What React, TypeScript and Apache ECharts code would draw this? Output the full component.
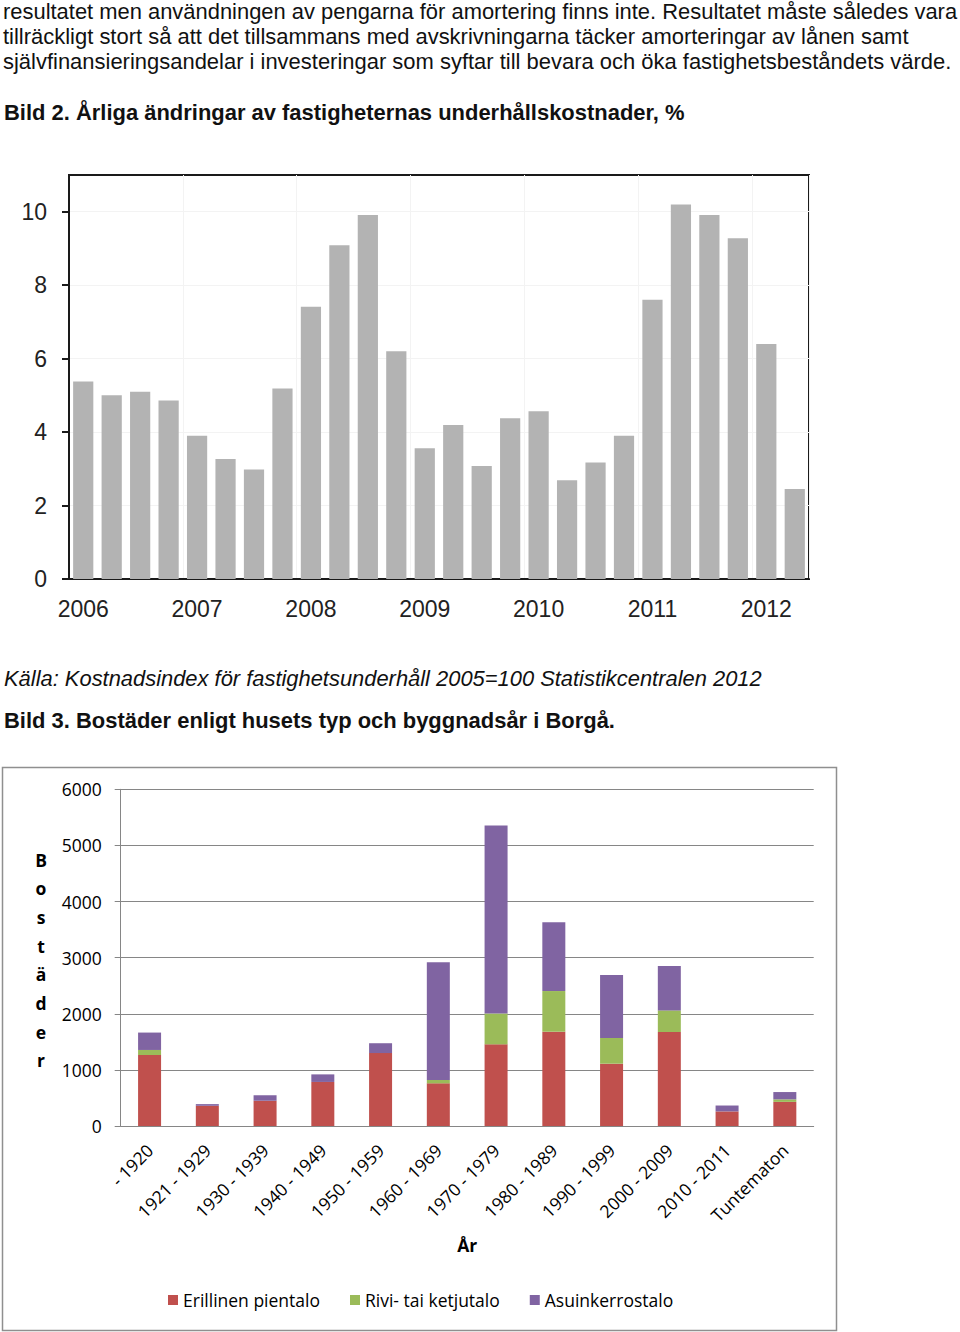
import React, { useEffect, useRef } from 'react';
import * as echarts from 'echarts';

// ---------- text ----------
const paragraphLines = [
  'resultatet men användningen av pengarna för amortering finns inte. Resultatet måste således vara',
  'tillräckligt stort så att det tillsammans med avskrivningarna täcker amorteringar av lånen samt',
  'självfinansieringsandelar i investeringar som syftar till bevara och öka fastighetsbeståndets värde.',
];
const title2 = 'Bild 2. Årliga ändringar av fastigheternas underhållskostnader, %';
const source2 = 'Källa: Kostnadsindex för fastighetsunderhåll 2005=100 Statistikcentralen 2012';
const title3 = 'Bild 3. Bostäder enligt husets typ och byggnadsår i Borgå.';

// ---------- chart 1 data ----------
const quarters = [
  '2006 Q1', '2006 Q2', '2006 Q3', '2006 Q4',
  '2007 Q1', '2007 Q2', '2007 Q3', '2007 Q4',
  '2008 Q1', '2008 Q2', '2008 Q3', '2008 Q4',
  '2009 Q1', '2009 Q2', '2009 Q3', '2009 Q4',
  '2010 Q1', '2010 Q2', '2010 Q3', '2010 Q4',
  '2011 Q1', '2011 Q2', '2011 Q3', '2011 Q4',
  '2012 Q1', '2012 Q2',
];
const maintenanceChange = [
  5.38, 5.0, 5.1, 4.86,
  3.9, 3.27, 2.98, 5.19,
  7.41, 9.09, 9.91, 6.2,
  3.56, 4.19, 3.08, 4.38,
  4.57, 2.69, 3.17, 3.9,
  7.6, 10.2, 9.91, 9.28,
  6.4, 2.45,
];
const yTicks1 = [0, 2, 4, 6, 8, 10];

// ---------- chart 2 data ----------
const periods = [
  '- 1920', '1921 - 1929', '1930 - 1939', '1940 - 1949', '1950 - 1959', '1960 - 1969',
  '1970 - 1979', '1980 - 1989', '1990 - 1999', '2000 - 2009', '2010 - 2011', 'Tuntematon',
];
const detachedHouses = [1265, 360, 450, 785, 1300, 760, 1455, 1680, 1110, 1675, 260, 430];
const rowHouses = [90, 0, 0, 0, 0, 60, 550, 725, 460, 385, 0, 45];
const apartmentBlocks = [310, 30, 100, 135, 175, 2100, 3350, 1225, 1120, 790, 105, 130];
const seriesNames = ['Erillinen pientalo', 'Rivi- tai ketjutalo', 'Asuinkerrostalo'];
const seriesColors = ['#C0504D', '#9BBB59', '#8064A2'];
const yAxisTitle = 'Bostäder';
const xAxisTitle = 'År';

const SANS = "'Liberation Sans', Arial, sans-serif";
const OPEN = "'Open Sans', sans-serif";

function measure(text: string, font: string): number {
  const ctx = document.createElement('canvas').getContext('2d');
  if (!ctx) return 1;
  ctx.font = font;
  return ctx.measureText(text).width || 1;
}

function fittedText(text: string, font: string, x: number, y: number, width: number) {
  const w = measure(text, font);
  return {
    type: 'text',
    x,
    y,
    scaleX: width / w,
    silent: true,
    style: {
      text,
      font,
      fill: '#111',
      textVerticalAlign: 'middle',
      verticalAlign: 'middle',
    },
  };
}

export default function App() {
  const ref = useRef<HTMLDivElement>(null);

  useEffect(() => {
    if (!ref.current) return;
    const chart = echarts.init(ref.current, undefined, { renderer: 'svg' });

    const fReg = `22px ${SANS}`;
    const fBold = `bold 22px ${SANS}`;
    const fIt = `italic 22px ${SANS}`;

    const graphics: any[] = [
      fittedText(paragraphLines[0], fReg, 3, 11.6, 955),
      fittedText(paragraphLines[1], fReg, 3, 36.6, 906),
      fittedText(paragraphLines[2], fReg, 3, 61.8, 949),
      fittedText(title2, fBold, 4, 112.4, 681),
      fittedText(source2, fIt, 4, 678.8, 758),
      fittedText(title3, fBold, 4, 720.5, 611),
      {
        type: 'rect',
        silent: true,
        shape: { x: 2.5, y: 767.5, width: 834, height: 563 },
        style: { fill: 'none', stroke: '#8f8f8f', lineWidth: 1.5 },
      },
      {
        type: 'text',
        x: 41,
        y: 960,
        silent: true,
        style: {
          text: yAxisTitle.split('').join('\n'),
          font: `bold 17.5px ${OPEN}`,
          fill: '#000',
          lineHeight: 28.7,
          textAlign: 'center',
          align: 'center',
          textVerticalAlign: 'middle',
          verticalAlign: 'middle',
        },
      },
    ];

    const option: any = {
      animation: false,
      backgroundColor: '#fff',
      graphic: { elements: graphics },
      legend: {
        data: seriesNames,
        left: 168,
        top: 1291,
        padding: 0,
        icon: 'rect',
        itemWidth: 10,
        itemHeight: 10,
        itemGap: 30,
        textStyle: { fontFamily: OPEN, fontSize: 17.5, color: '#000' },
      },
      grid: [
        {
          left: 69, top: 175, width: 740, height: 404,
          show: true, borderColor: '#1a1a1a', borderWidth: 2, backgroundColor: '#fff',
          containLabel: false,
        },
        {
          left: 120.7, top: 789.3, width: 693, height: 336.7,
          containLabel: false,
        },
      ],
      xAxis: [
        {
          type: 'category',
          gridIndex: 0,
          data: quarters,
          axisLine: { lineStyle: { color: '#1a1a1a', width: 2 } },
          axisTick: { interval: 3, length: 8, lineStyle: { color: '#1a1a1a', width: 2 } },
          axisLabel: {
            interval: 3,
            formatter: (v: string) => v.slice(0, 4),
            fontFamily: SANS,
            fontSize: 23,
            color: '#222',
            margin: 18,
          },
          splitLine: { show: true, interval: 3, lineStyle: { color: '#f3f3f3', width: 1 } },
        },
        {
          type: 'category',
          gridIndex: 1,
          data: periods,
          name: xAxisTitle,
          nameLocation: 'middle',
          nameGap: 110,
          nameTextStyle: { fontFamily: OPEN, fontSize: 17.5, fontWeight: 'bold', color: '#000' },
          axisLine: { lineStyle: { color: '#868686', width: 1 } },
          axisTick: { length: 6, lineStyle: { color: '#868686', width: 1 } },
          axisLabel: {
            interval: 0,
            rotate: 45,
            margin: 21,
            fontFamily: OPEN,
            fontSize: 17.5,
            color: '#000',
          },
        },
      ],
      yAxis: [
        {
          type: 'value',
          gridIndex: 0,
          min: 0,
          max: 11,
          interval: 2,
          axisLine: { show: true, lineStyle: { color: '#1a1a1a', width: 2 } },
          axisTick: { show: true, length: 7, customValues: yTicks1, lineStyle: { color: '#1a1a1a', width: 2 } },
          axisLabel: {
            customValues: yTicks1,
            formatter: (v: number) => (v > 10 ? '' : String(v)),
            fontFamily: SANS,
            fontSize: 23,
            color: '#222',
            margin: 22,
          },
          splitLine: { show: true, lineStyle: { color: '#f3f3f3', width: 1 } },
        },
        {
          type: 'value',
          gridIndex: 1,
          min: 0,
          max: 6000,
          interval: 1000,
          axisLine: { show: true, lineStyle: { color: '#868686', width: 1 } },
          axisTick: { show: true, length: 6, lineStyle: { color: '#868686', width: 1 } },
          axisLabel: {
            formatter: (v: number) => String(v),
            fontFamily: OPEN,
            fontSize: 17.5,
            color: '#000',
            margin: 19,
          },
          splitLine: { show: true, lineStyle: { color: '#868686', width: 1.2 } },
        },
      ],
      series: [
        {
          type: 'bar',
          xAxisIndex: 0,
          yAxisIndex: 0,
          data: maintenanceChange,
          barCategoryGap: '29%',
          itemStyle: { color: '#b3b3b3' },
        },
        {
          name: seriesNames[0],
          type: 'bar',
          stack: 'homes',
          xAxisIndex: 1,
          yAxisIndex: 1,
          barWidth: 23,
          data: detachedHouses,
          itemStyle: { color: seriesColors[0] },
        },
        {
          name: seriesNames[1],
          type: 'bar',
          stack: 'homes',
          xAxisIndex: 1,
          yAxisIndex: 1,
          barWidth: 23,
          data: rowHouses,
          itemStyle: { color: seriesColors[1] },
        },
        {
          name: seriesNames[2],
          type: 'bar',
          stack: 'homes',
          xAxisIndex: 1,
          yAxisIndex: 1,
          barWidth: 23,
          data: apartmentBlocks,
          itemStyle: { color: seriesColors[2] },
        },
      ],
    };

    chart.setOption(option);
    return () => chart.dispose();
  }, []);

  return (
    <div
      ref={ref}
      style={{ position: 'absolute', left: 0, top: 0, width: 960, height: 1332, background: '#fff' }}
    />
  );
}
